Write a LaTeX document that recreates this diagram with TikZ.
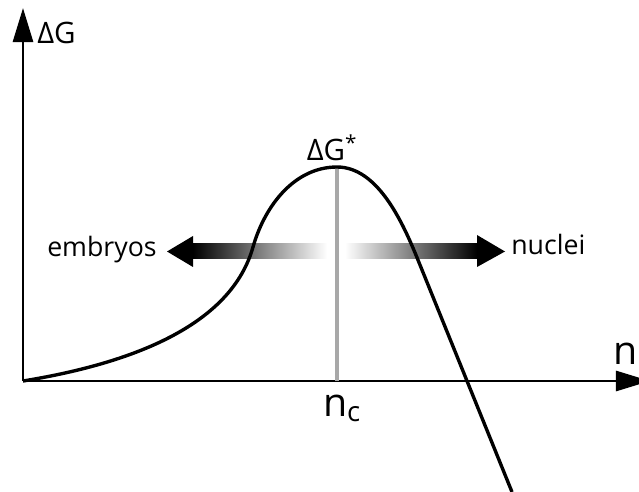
\documentclass[tikz,border=0pt]{standalone}
\usepackage{fontspec}
\setmainfont{Open Sans}
\usepackage{tikz}
\usetikzlibrary{arrows.meta,positioning}
\definecolor{peakline}{HTML}{A8A8A8}
\tikzset{
  axis/.style={line width=2pt,-{Triangle[length=0.85cm,width=0.5cm]}},
  energy/.style={line width=2.4pt,line join=round},
  crit/.style={line width=2.2pt,color=peakline},
  lbl/.style={font=\fontsize{19}{22}\selectfont,inner sep=0pt},
  glbl/.style={font=\fontsize{21}{24}\selectfont,inner sep=0pt},
  varlbl/.style={font=\fontsize{28}{31}\selectfont,inner sep=0pt},
  headtip/.style={fill=black},
}

\begin{document}
\begin{tikzpicture}[x=0.025cm,y=-0.025cm]
  \useasboundingbox (0,0) rectangle (639,492);
  \coordinate (O) at (23,381);
  \coordinate (ytop) at (23,8);
  \coordinate (xend) at (650,381);
  \coordinate (peak) at (337,167);
  \coordinate (foot) at (337,381);
  \coordinate (rise) at (253,247);
  \coordinate (fall) at (418,260);
  \coordinate (tail) at (512,492);
  \draw[axis] (O) -- (ytop);
  \draw[axis] (O) -- (xend);
  \shade[left color=black,right color=white] (193,244) rectangle (327,259);
  \shade[left color=white,right color=black] (345,244) rectangle (477,259);
  \fill[headtip] (193,236) -- (167,251.5) -- (193,267) -- cycle;
  \fill[headtip] (477,235) -- (505,251.5) -- (477,267) -- cycle;
  \draw[crit] (peak) -- (foot);
  \draw[energy] (O) .. controls (140,362) and (232,322) .. (rise)
    .. controls (265,205) and (295,167) .. (peak)
    .. controls (378,167) and (403,223) .. (fall) -- (tail);
  \node[glbl,anchor=base west] (dg) at (37,44) {ΔG};
  \node[glbl,anchor=base] (dgstar) at (332,161) {ΔG\textsuperscript{*}};
  \node[lbl,anchor=base east] (emb) at (157,257) {embryos};
  \node[lbl,anchor=base west] (nuc) at (511,255) {nuclei};
  \node[varlbl,anchor=base west] (nvar) at (613,364) {n};
  \node[varlbl,anchor=base] (nc) at (342,416) {n\textsubscript{c}};
\end{tikzpicture}
\end{document}
